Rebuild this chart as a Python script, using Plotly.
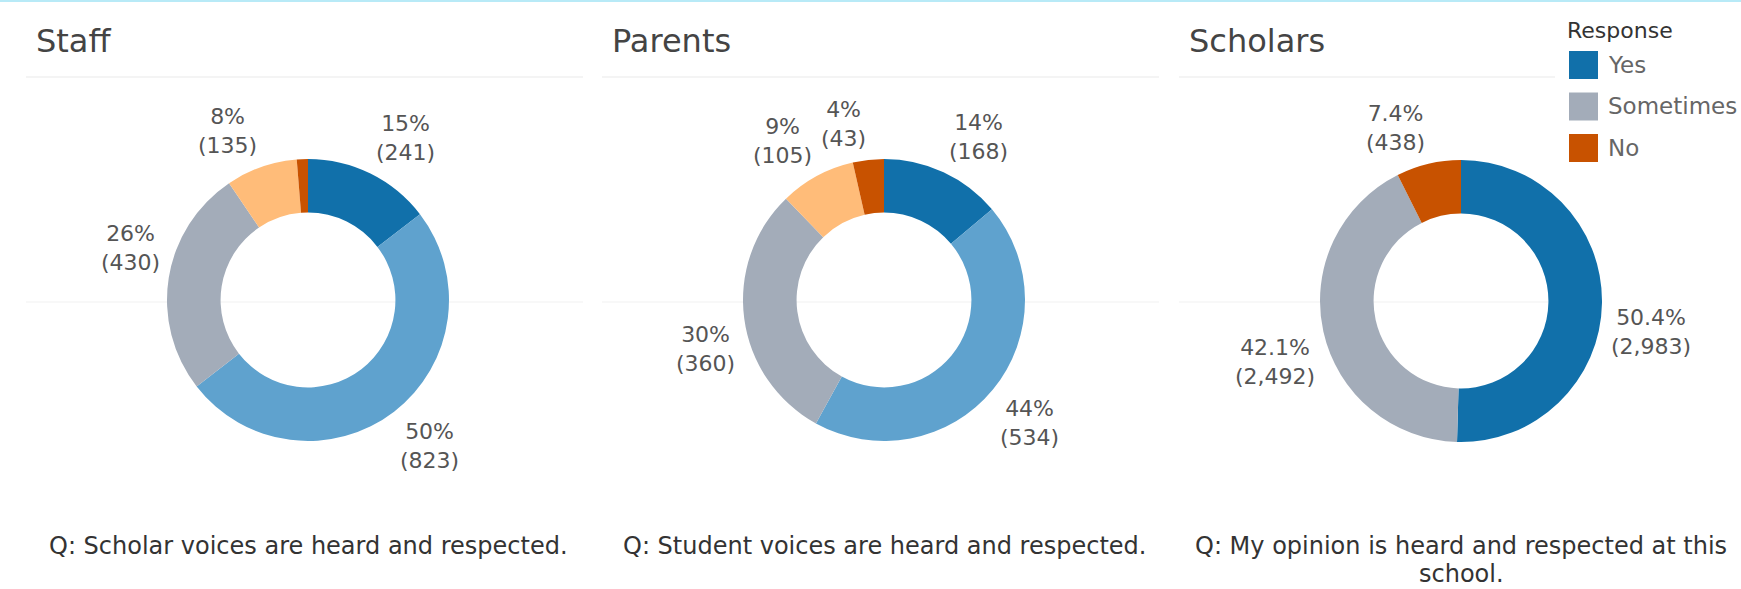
import math
import plotly.graph_objects as go

W, H = 1741, 589

# ---- data -------------------------------------------------------------
panel_titles = ["Staff", "Parents", "Scholars"]
questions = [
    ["Q: Scholar voices are heard and respected."],
    ["Q: Student voices are heard and respected."],
    ["Q: My opinion is heard and respected at this", "school."],
]

staff_responses = ["Yes", "Mostly", "Sometimes", "Rarely", "No"]
staff_counts = [241, 823, 430, 135, 21]

parent_responses = ["Yes", "Mostly", "Sometimes", "Rarely", "No"]
parent_counts = [168, 534, 360, 105, 43]

scholar_responses = ["Yes", "Sometimes", "No"]
scholar_counts = [2983, 2492, 438]

pct_decimals = [0, 0, 1]

legend_title = "Response"
legend_items = ["Yes", "Sometimes", "No"]

# ---- styling ----------------------------------------------------------
colors = {
    "Yes": "#1170aa",
    "Mostly": "#5fa2ce",
    "Sometimes": "#a3acb9",
    "Rarely": "#ffbc79",
    "No": "#c85200",
}
FONT = "DejaVu Sans"
centers = [(308, 300), (884, 300), (1461, 301)]   # donut centres, px
R_OUT = 141                                        # outer radius, px
HOLE = 0.62
LABEL_R = 148                                      # label anchor distance, px
MIN_LABEL_SHARE = 0.02
CAPTION_Y = 546
CAPTION_GAP = 28


def px(x):
    return x / W


def py(y):
    return 1 - y / H


panels = [
    (staff_responses, staff_counts),
    (parent_responses, parent_counts),
    (scholar_responses, scholar_counts),
]

fig = go.Figure()
annotations = []
shapes = []

for i, ((labels, counts), (cx, cy)) in enumerate(zip(panels, centers)):
    fig.add_trace(go.Pie(
        labels=labels,
        values=counts,
        marker=dict(colors=[colors[l] for l in labels], line=dict(width=0)),
        hole=HOLE,
        sort=False,
        direction="clockwise",
        rotation=0,
        textinfo="none",
        showlegend=False,
        hovertemplate="%{label}: %{value:,} (%{percent})<extra></extra>",
        domain=dict(x=[px(cx - R_OUT), px(cx + R_OUT)],
                    y=[py(cy + R_OUT), py(cy - R_OUT)]),
    ))

    # slice labels: nearest corner of the label sits on the slice's mid-angle ray
    total = sum(counts)
    cum = 0
    for v in counts:
        share = v / total
        mid = (cum + v / 2) / total
        cum += v
        if share < MIN_LABEL_SHARE:
            continue
        theta = 2 * math.pi * mid
        s, c = math.sin(theta), math.cos(theta)
        lx = cx + LABEL_R * s
        ly = cy - LABEL_R * c
        d = pct_decimals[i]
        annotations.append(dict(
            x=px(lx), y=py(ly), xref="paper", yref="paper",
            text=f"{share * 100:.{d}f}%<br>({v:,})",
            showarrow=False, align="center",
            xanchor="left" if s >= 0 else "right",
            yanchor="bottom" if c > 0 else "top",
            font=dict(family=FONT, size=22, color="#555555"),
        ))

    # worksheet title
    annotations.append(dict(
        x=px(cx - 274), y=py(41), xref="paper", yref="paper",
        text=panel_titles[i], showarrow=False,
        xanchor="left", yanchor="middle",
        font=dict(family=FONT, size=32, color="#444444"),
    ))

    # question caption, one annotation per wrapped line
    for j, line in enumerate(questions[i]):
        annotations.append(dict(
            x=px(cx), y=py(CAPTION_Y + j * CAPTION_GAP),
            xref="paper", yref="paper",
            text=line, showarrow=False,
            xanchor="center", yanchor="middle",
            font=dict(family=FONT, size=24, color="#333333"),
        ))

    # faint pane rules
    x_left = cx - 282
    x_right = min(cx + 275, 1555)
    for yy, col in ((77, "#e9e9e9"), (302, "#f1f1f1")):
        shapes.append(dict(
            type="line", xref="paper", yref="paper",
            x0=px(x_left), x1=px(x_right), y0=py(yy), y1=py(yy),
            line=dict(color=col, width=1), layer="below",
        ))

# top border
shapes.append(dict(
    type="rect", xref="paper", yref="paper",
    x0=0, x1=1, y0=py(2), y1=1,
    fillcolor="#b8eaf7", line=dict(width=0),
))

# colour legend
annotations.append(dict(
    x=px(1565), y=py(30), xref="paper", yref="paper",
    text=legend_title, showarrow=False,
    xanchor="left", yanchor="middle",
    font=dict(family=FONT, size=22, color="#333333"),
))
for k, name in enumerate(legend_items):
    yc = 65 + k * 41.5
    shapes.append(dict(
        type="rect", xref="paper", yref="paper",
        x0=px(1569), x1=px(1598), y0=py(yc + 14), y1=py(yc - 14),
        fillcolor=colors[name], line=dict(width=0),
    ))
    annotations.append(dict(
        x=px(1606), y=py(yc), xref="paper", yref="paper",
        text=name, showarrow=False,
        xanchor="left", yanchor="middle",
        font=dict(family=FONT, size=23, color="#666666"),
    ))

fig.update_layout(
    width=W, height=H,
    margin=dict(l=0, r=0, t=0, b=0, pad=0),
    paper_bgcolor="white",
    plot_bgcolor="white",
    annotations=annotations,
    shapes=shapes,
)

fig.write_html("out.html")
